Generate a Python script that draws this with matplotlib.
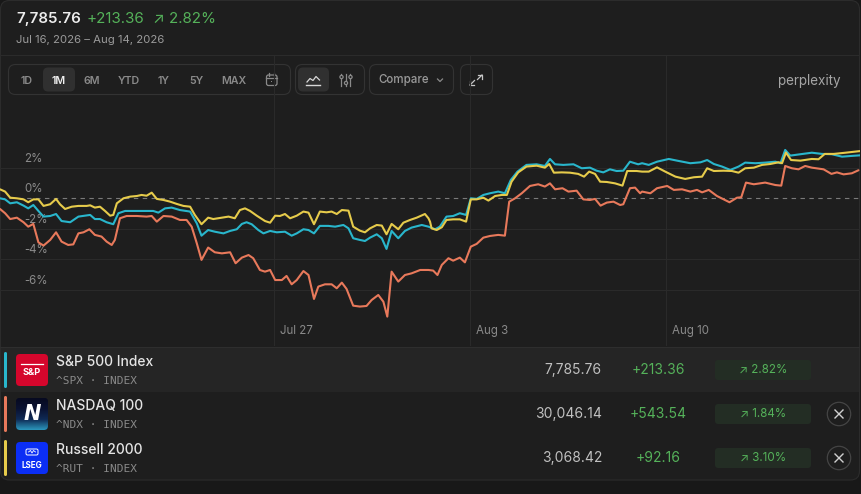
import numpy as np
import matplotlib
matplotlib.use("Agg")
import matplotlib.pyplot as plt
from matplotlib.patches import FancyBboxPatch, Circle, Rectangle
from matplotlib.colors import LinearSegmentedColormap
from matplotlib.transforms import blended_transform_factory

plt.rcParams['font.family'] = ['Inter', 'DejaVu Sans']

# (trading day since Jul 16 open, % change)
spx = [(0.00, 0.0), (0.13, -0.07), (0.26, -0.33), (0.43, -0.26), (0.60, -0.48), (0.72, -0.66),
       (0.85, -0.44), (0.98, -0.83), (1.11, -1.20), (1.28, -1.16), (1.43, -1.03), (1.57, -1.49),
       (1.79, -1.57), (2.00, -1.20), (2.30, -1.09), (2.42, -1.36), (2.55, -1.36), (2.72, -1.57),
       (2.89, -1.70), (3.02, -0.98), (3.19, -0.83), (3.40, -0.83), (3.66, -0.83), (3.91, -0.83),
       (4.04, -0.94), (4.21, -0.66), (4.38, -0.61), (4.59, -0.77), (4.85, -0.87), (5.02, -1.64),
       (5.14, -2.45), (5.31, -2.08), (5.48, -2.19), (5.70, -2.30), (5.87, -2.14), (6.04, -2.03),
       (6.17, -1.68), (6.29, -1.57), (6.42, -1.70), (6.59, -2.08), (6.72, -2.30), (6.89, -2.14),
       (7.06, -2.23), (7.27, -2.19), (7.44, -2.45), (7.57, -2.30), (7.74, -2.03), (7.87, -2.08),
       (8.01, -2.30), (8.16, -1.81), (8.38, -1.81), (8.55, -1.86), (8.76, -1.75), (8.89, -1.97),
       (9.01, -2.62), (9.18, -2.73), (9.31, -2.80), (9.44, -2.58), (9.61, -2.36), (9.74, -2.62),
       (9.86, -3.32), (9.99, -2.14), (10.16, -2.62), (10.33, -2.14), (10.50, -1.92), (10.76, -1.75),
       (10.93, -1.86), (11.10, -2.03), (11.22, -1.86), (11.39, -1.20), (11.56, -1.16), (11.73, -0.98),
       (11.89, -1.09), (12.01, 0.0), (12.16, -0.04), (12.33, 0.22), (12.50, 0.33), (12.71, 0.44),
       (12.88, 0.33), (13.03, 1.20), (13.20, 1.75), (13.43, 2.19), (13.69, 2.23), (13.90, 2.12),
       (14.03, 2.58), (14.16, 2.23), (14.37, 2.19), (14.63, 2.23), (14.84, 1.97), (15.05, 2.01),
       (15.22, 1.81), (15.39, 1.70), (15.56, 1.90), (15.73, 1.79), (15.90, 1.81), (16.07, 2.40),
       (16.28, 2.23), (16.38, 2.30), (16.55, 2.19), (16.76, 2.40), (17.06, 2.58), (17.31, 2.45),
       (17.61, 2.30), (17.87, 2.36), (18.04, 2.51), (18.21, 2.25), (18.42, 2.08), (18.63, 1.86),
       (18.84, 2.08), (19.01, 2.34), (19.27, 2.30), (19.52, 2.34), (19.78, 2.40), (19.91, 2.30),
       (20.03, 3.17), (20.16, 2.80), (20.42, 2.89), (20.71, 2.99), (20.97, 2.91), (21.22, 2.89),
       (21.48, 2.73), (21.73, 2.78), (21.95, 2.82)]

ndx = [(0.00, -0.70), (0.13, -0.98), (0.26, -1.36), (0.43, -1.27), (0.60, -1.57), (0.72, -1.86),
       (0.85, -1.68), (0.98, -2.89), (1.11, -3.10), (1.28, -2.73), (1.43, -2.23), (1.57, -2.84),
       (1.74, -3.06), (1.87, -3.02), (2.00, -2.30), (2.13, -2.23), (2.28, -2.03), (2.42, -2.40),
       (2.59, -2.51), (2.72, -2.84), (2.85, -3.06), (2.93, -2.73), (3.06, -1.31), (3.23, -1.16),
       (3.49, -1.16), (3.74, -1.20), (3.87, -1.16), (4.00, -1.53), (4.17, -1.16), (4.38, -1.20),
       (4.59, -1.42), (4.76, -1.42), (4.89, -1.86), (5.02, -2.95), (5.14, -4.04), (5.31, -3.23),
       (5.48, -3.54), (5.66, -3.61), (5.87, -3.54), (6.01, -4.26), (6.17, -3.89), (6.34, -3.72),
       (6.46, -3.93), (6.63, -4.70), (6.76, -4.81), (6.89, -4.70), (7.02, -5.36), (7.19, -5.36),
       (7.31, -5.09), (7.44, -5.64), (7.57, -5.36), (7.74, -4.77), (7.87, -5.03), (8.01, -6.60),
       (8.12, -5.79), (8.29, -5.64), (8.46, -5.64), (8.59, -5.90), (8.72, -5.53), (8.84, -5.94),
       (9.01, -7.04), (9.18, -7.10), (9.35, -7.06), (9.48, -6.67), (9.65, -6.34), (9.78, -6.78),
       (9.88, -7.76), (9.99, -4.81), (10.16, -5.46), (10.33, -5.03), (10.50, -4.92), (10.72, -4.70),
       (10.93, -4.70), (11.05, -4.74), (11.16, -5.03), (11.27, -4.37), (11.44, -3.93), (11.56, -4.09),
       (11.73, -3.89), (11.86, -4.20), (12.01, -3.17), (12.16, -2.99), (12.33, -2.58), (12.50, -2.47),
       (12.71, -2.40), (12.88, -2.45), (12.99, -0.22), (13.14, 0.0), (13.31, 0.33), (13.52, 0.81),
       (13.73, 0.92), (13.90, 0.77), (14.03, 0.98), (14.16, 0.59), (14.35, 0.66), (14.50, 0.44),
       (14.71, 0.50), (14.88, -0.07), (15.05, -0.11), (15.18, -0.04), (15.32, -0.48), (15.48, -0.28),
       (15.65, -0.22), (15.82, -0.44), (15.90, -0.39), (16.07, 0.66), (16.20, 0.70), (16.33, 0.33),
       (16.38, 0.44), (16.59, 0.33), (16.76, 0.66), (17.02, 0.81), (17.19, 0.55), (17.40, 0.59),
       (17.61, 0.44), (17.78, 0.55), (17.91, 0.39), (18.08, 0.55), (18.29, 0.15), (18.46, -0.07),
       (18.61, -0.26), (18.80, 0.04), (18.91, 0.07), (19.03, 1.03), (19.23, 0.92), (19.52, 1.03),
       (19.78, 0.87), (19.93, 0.83), (20.03, 2.12), (20.20, 1.97), (20.37, 1.90), (20.54, 2.12),
       (20.71, 2.01), (21.01, 1.90), (21.21, 1.60), (21.35, 1.70), (21.52, 1.57), (21.73, 1.64),
       (21.90, 1.84)]

rut = [(0.00, 0.59), (0.13, 0.44), (0.26, 0.04), (0.43, 0.0), (0.60, -0.07), (0.72, -0.26),
       (0.85, -0.07), (0.98, -0.07), (1.11, -0.50), (1.28, -0.39), (1.43, -0.04), (1.53, -0.39),
       (1.66, -0.70), (1.83, -0.55), (2.00, -0.50), (2.21, -0.50), (2.30, -0.46), (2.42, -0.61),
       (2.55, -0.55), (2.68, -0.83), (2.81, -1.14), (2.89, -1.09), (2.98, -0.33), (3.15, 0.0),
       (3.32, 0.11), (3.49, 0.15), (3.61, 0.22), (3.74, 0.17), (3.87, 0.37), (4.00, -0.04),
       (4.17, -0.11), (4.34, -0.22), (4.51, -0.37), (4.68, -0.50), (4.85, -0.55), (4.97, -1.09),
       (5.14, -1.70), (5.31, -1.27), (5.44, -1.36), (5.66, -1.27), (5.83, -1.20), (5.99, -1.31),
       (6.12, -0.77), (6.25, -0.66), (6.38, -0.83), (6.55, -1.14), (6.76, -1.49), (6.89, -1.60),
       (7.02, -1.14), (7.14, -1.16), (7.27, -1.03), (7.40, -1.31), (7.57, -1.14), (7.74, -0.87),
       (7.87, -0.94), (8.01, -1.70), (8.16, -0.87), (8.33, -0.92), (8.46, -0.87), (8.59, -1.03),
       (8.72, -0.77), (8.89, -0.81), (9.01, -1.86), (9.18, -2.12), (9.31, -2.23), (9.44, -1.97),
       (9.61, -1.75), (9.74, -1.79), (9.86, -2.36), (9.99, -1.68), (10.16, -2.03), (10.29, -1.60),
       (10.46, -1.42), (10.63, -1.27), (10.84, -1.03), (10.93, -1.31), (10.97, -1.53), (11.01, -1.97),
       (11.14, -2.08), (11.27, -1.90), (11.39, -1.42), (11.56, -1.38), (11.73, -1.38), (11.89, -1.53),
       (12.01, -0.07), (12.16, -0.07), (12.33, 0.04), (12.46, -0.15), (12.63, 0.15), (12.80, 0.22),
       (12.93, 0.22), (13.05, 1.09), (13.22, 1.70), (13.43, 2.08), (13.69, 2.14), (13.90, 2.01),
       (14.01, 2.25), (14.13, 1.68), (14.33, 1.70), (14.54, 1.68), (14.75, 1.60), (14.90, 1.42),
       (15.03, 1.75), (15.18, 1.60), (15.31, 1.09), (15.48, 1.07), (15.69, 0.98), (15.88, 0.83),
       (16.00, 1.79), (16.24, 1.79), (16.38, 1.75), (16.55, 1.75), (16.76, 2.03), (16.97, 1.75),
       (17.23, 1.42), (17.48, 1.27), (17.70, 1.38), (17.91, 1.42), (18.04, 1.97), (18.21, 1.79),
       (18.46, 1.81), (18.67, 1.79), (18.84, 1.68), (19.01, 1.97), (19.23, 2.01), (19.44, 2.19),
       (19.65, 2.25), (19.86, 2.36), (19.95, 2.30), (20.05, 3.00), (20.18, 2.51), (20.42, 2.47),
       (20.71, 2.58), (20.88, 2.56), (21.04, 2.91), (21.27, 2.91), (21.57, 2.99), (21.95, 3.10)]

yticks = [2, 0, -2, -4, -6]
xtick_days = [7, 12, 17]
xtick_labels = ["Jul 27", "Aug 3", "Aug 10"]

names = ["S&P 500 Index", "NASDAQ 100", "Russell 2000"]
tickers = ["^SPX · INDEX", "^NDX · INDEX", "^RUT · INDEX"]
prices = ["7,785.76", "30,046.14", "3,068.42"]
changes = ["+213.36", "+543.54", "+92.16"]
pcts = ["2.82%", "1.84%", "3.10%"]
colors = ["#29b6cc", "#e8795b", "#e6cb4b"]

periods = ["1D", "1M", "6M", "YTD", "1Y", "5Y", "MAX"]

GREEN = "#55b25a"
GRAY = "#8a8a8a"
W, H = 862, 494

fig = plt.figure(figsize=(W / 100, H / 100), dpi=100)
fig.patch.set_facecolor("#181818")

bg = fig.add_axes([0, 0, 1, 1])
bg.set_zorder(0)
bg.axis("off")

# card
bg.add_patch(FancyBboxPatch((0.5, 0.5), 859, 479.5, boxstyle="round,pad=0,rounding_size=9",
                            facecolor="#1e1e1e", edgecolor="#2c2c2c", lw=0.8))
bg.add_patch(Rectangle((1, 347), 858, 45, facecolor="#252525", edgecolor="none"))
bg.plot([0.5, 859.5], [55, 55], color="#2b2b2b", lw=0.8)
bg.plot([0.5, 859.5], [347, 347], color="#2e2e2e", lw=0.8)

# header
bg.text(16, 19, prices[0], fontsize=10.9, color="#ececec", fontweight="semibold", va="center")
bg.text(87, 19, changes[0], fontsize=10.9, color=GREEN, va="center")
bg.text(153, 19, "↗ " + pcts[0], fontsize=10.9, color=GREEN, va="center")
bg.text(16, 40, "Jul 16, 2026 – Aug 14, 2026", fontsize=8.2, color="#9a9a9a", va="center")

# period buttons
bg.add_patch(FancyBboxPatch((8.5, 64.5), 282, 30, boxstyle="round,pad=0,rounding_size=7",
                            facecolor="none", edgecolor="#333333", lw=0.8))
bg.add_patch(FancyBboxPatch((43, 67.5), 32, 24, boxstyle="round,pad=0,rounding_size=5",
                            facecolor="#303030", edgecolor="none"))
for lab, cx in zip(periods, [26.7, 58.7, 92, 129, 164, 196.7, 234.3]):
    bg.text(cx, 80.5, lab, fontsize=7.7, color="#f0f0f0" if lab == "1M" else GRAY,
            fontweight="semibold", ha="center", va="center")
# calendar icon
bg.add_patch(FancyBboxPatch((266.5, 75), 10.5, 10.5, boxstyle="round,pad=0,rounding_size=2",
                            facecolor="none", edgecolor=GRAY, lw=0.9))
bg.plot([266.5, 277], [78.5, 78.5], color=GRAY, lw=0.9)
bg.plot([269.3, 269.3], [73, 76.5], color=GRAY, lw=0.9)
bg.plot([274.2, 274.2], [73, 76.5], color=GRAY, lw=0.9)
bg.add_patch(Rectangle((271, 81), 1.5, 1.5, facecolor=GRAY, edgecolor="none"))

# chart type buttons
bg.add_patch(FancyBboxPatch((295.5, 64.5), 69, 30, boxstyle="round,pad=0,rounding_size=7",
                            facecolor="none", edgecolor="#333333", lw=0.8))
bg.add_patch(FancyBboxPatch((298, 67.5), 31, 24, boxstyle="round,pad=0,rounding_size=5",
                            facecolor="#303030", edgecolor="none"))
bg.plot([307, 310, 313, 316, 319.5], [82, 78.5, 80.5, 76.5, 80], color="#d8d8d8", lw=0.9)
bg.plot([306.5, 320], [85.5, 85.5], color="#d8d8d8", lw=1.0)
for sx, cy in zip([341.5, 346, 350.5], [77, 83, 77]):
    bg.plot([sx, sx], [74, 86], color=GRAY, lw=0.9)
    bg.add_patch(Circle((sx, cy), 1.6, facecolor="#1e1e1e", edgecolor=GRAY, lw=0.9, zorder=3))

# compare
bg.add_patch(FancyBboxPatch((369.5, 64.5), 84, 30, boxstyle="round,pad=0,rounding_size=7",
                            facecolor="none", edgecolor="#333333", lw=0.8))
bg.text(378, 80.5, "Compare", fontsize=8.3, color="#9a9a9a", fontweight="medium", va="center")
bg.plot([437.5, 440, 442.5], [79, 81.5, 79], color=GRAY, lw=0.9)

# expand
bg.add_patch(FancyBboxPatch((460.5, 64.5), 32, 30, boxstyle="round,pad=0,rounding_size=7",
                            facecolor="none", edgecolor="#333333", lw=0.8))
bg.plot([478, 482, 482], [75, 75, 79], color="#c8c8c8", lw=0.9)
bg.plot([482, 477.5], [75, 79.5], color="#c8c8c8", lw=0.9)
bg.plot([470, 470, 474], [81, 85, 85], color="#c8c8c8", lw=0.9)
bg.plot([470, 474.5], [85, 80.5], color="#c8c8c8", lw=0.9)

bg.text(778, 84.5, "perplexity", fontsize=9.7, color="#a5a5a5", va="baseline")

# table rows
row_y = [370, 414, 458]
for i in range(3):
    cy = row_y[i]
    bg.add_patch(FancyBboxPatch((4, cy - 18), 3, 36, boxstyle="round,pad=0,rounding_size=1.5",
                                facecolor=colors[i], edgecolor="none"))
    bg.text(56, cy - 8.5, names[i], fontsize=10, color="#e4e4e4", fontweight="medium", va="center")
    bg.text(56, cy + 11, tickers[i], fontsize=8, color=GRAY, va="center",
            family=["DejaVu Sans Mono"])
    bg.text(602, cy, prices[i], fontsize=10, color="#c0c0c0", ha="right", va="center")
    bg.text(658, cy, changes[i], fontsize=10, color=GREEN, ha="center", va="center")
    bg.add_patch(FancyBboxPatch((715, cy - 10), 96, 20, boxstyle="round,pad=0,rounding_size=3",
                                facecolor="#232d24", edgecolor="none"))
    bg.text(763, cy, "↗ " + pcts[i], fontsize=8.4, color=GREEN, ha="center", va="center")
    if i > 0:
        bg.add_patch(Circle((839, cy), 11.7, facecolor="none", edgecolor="#444444", lw=0.9))
        bg.plot([835, 843], [cy - 4, cy + 4], color="#d0d0d0", lw=1.0)
        bg.plot([835, 843], [cy + 4, cy - 4], color="#d0d0d0", lw=1.0)

# logos
sp = FancyBboxPatch((16, 354), 32, 32, boxstyle="round,pad=0,rounding_size=4",
                    facecolor="#d5062c", edgecolor="none")
bg.add_patch(sp)
bg.plot([21, 43], [363.5, 363.5], color="white", lw=0.9)
bg.text(32, 372, "S&P", fontsize=6.6, color="white", fontweight="bold", ha="center", va="center")

nd = FancyBboxPatch((16, 398), 32, 32, boxstyle="round,pad=0,rounding_size=4",
                    facecolor="#080c24", edgecolor="none")
bg.add_patch(nd)
grad = np.linspace(0, 1, 64).reshape(-1, 1)
cmap = LinearSegmentedColormap.from_list("nd", ["#070a20", "#0a1232", "#0f2a55", "#2b95bb"])
im = bg.imshow(grad, extent=(16, 48, 430, 398), cmap=cmap, aspect="auto", zorder=2)
im.set_clip_path(nd)
bg.text(32, 414, "N", fontsize=15, color="white", fontweight="heavy", fontstyle="italic",
        ha="center", va="center", zorder=3, family=["DejaVu Sans"])

ls = FancyBboxPatch((16, 442), 32, 32, boxstyle="round,pad=0,rounding_size=4",
                    facecolor="#0b2ef5", edgecolor="none")
bg.add_patch(ls)
bg.add_patch(FancyBboxPatch((26, 449), 12, 6, boxstyle="round,pad=0,rounding_size=1.5",
                            facecolor="none", edgecolor="white", lw=0.7))
bg.plot([28.5, 30.5, 32, 33.5, 35.5], [452, 450.5, 453, 450.5, 452], color="white", lw=0.6)
bg.text(32, 465, "LSEG", fontsize=5.8, color="white", fontweight="bold", ha="center", va="center")

bg.set_xlim(0, W)
bg.set_ylim(H, 0)

# chart
PX_DAY, PX_PCT = 39.2, 15.25
top_px, bot_px, zero_px = 56, 346, 198.3
ax = fig.add_axes([0, 1 - bot_px / H, 860 / W, (bot_px - top_px) / H])
ax.set_zorder(2)
ax.patch.set_alpha(0)
for s in ax.spines.values():
    s.set_visible(False)
ax.set_xticks([])
ax.set_yticks([])
ax.set_xlim(0, 860 / PX_DAY)
ax.set_ylim((zero_px - bot_px) / PX_PCT, (zero_px - top_px) / PX_PCT)

for v in yticks:
    if v == 0:
        ax.axhline(0, color="#7a7a7a", lw=0.8, ls=(0, (4, 4)), zorder=1)
    else:
        ax.axhline(v, color="#2a2a2a", lw=0.8, zorder=1)
    ax.annotate(f"{v}%", xy=(0, v), xytext=(17.3, 4.3), textcoords="offset points",
                fontsize=8.3, color=GRAY, va="baseline", ha="left", zorder=2)

trans = blended_transform_factory(ax.transData, ax.transAxes)
for d, lab in zip(xtick_days, xtick_labels):
    ax.axvline(d, color="#2a2a2a", lw=0.8, zorder=1)
    ax.annotate(lab, xy=(d, 0.052), xycoords=trans, xytext=(3.8, 0), textcoords="offset points",
                fontsize=8.3, color=GRAY, va="center", ha="left")

for series, c in [(ndx, colors[1]), (spx, colors[0]), (rut, colors[2])]:
    t, v = zip(*series)
    ax.plot(t, v, color=c, lw=1.5, solid_joinstyle="round", solid_capstyle="round", zorder=3)

fig.savefig("out.png", dpi=100, facecolor=fig.get_facecolor())
